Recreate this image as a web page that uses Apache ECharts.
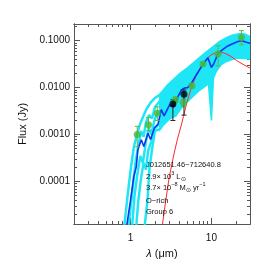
<!DOCTYPE html>
<html><head><meta charset="utf-8">
<script src="https://cdn.jsdelivr.net/npm/echarts@6/dist/echarts.min.js"></script>
<style>html,body{margin:0;padding:0;background:#fff}#c{width:273px;height:273px}</style>
</head><body><div id="c"></div>
<script>
// ---- axis ranges & ticks ----
const xRange = [0.2, 30];
const yRange = [1.25e-5, 0.226];
const xMajorTicks = [1, 10];
const xMinorTicks = [0.3,0.4,0.5,0.6,0.7,0.8,0.9,2,3,4,5,6,7,8,9,20];
const yMajorTicks = [1e-4, 1e-3, 1e-2, 1e-1];
const yMinorTicks = [2e-5,3e-5,4e-5,5e-5,6e-5,7e-5,8e-5,9e-5,
  2e-4,3e-4,4e-4,5e-4,6e-4,7e-4,8e-4,9e-4,
  2e-3,3e-3,4e-3,5e-3,6e-3,7e-3,8e-3,9e-3,
  0.02,0.03,0.04,0.05,0.06,0.07,0.08,0.09,0.2];

// ---- best-fit model (blue) ----
const blueL = [0.9,1.0,1.1,1.18,1.23,1.36,1.46,1.64,1.77,1.98,2.18,2.4,2.6,3.04,3.4,3.86,4.25,4.67,5.1,5.65,6.5,7.87,9.05,10.0,10.6,12.1,15.3,18,21.3,24,27,30];
const blueF = [1.2e-5,4e-5,1.3e-4,2.1e-4,4.7e-4,7.8e-4,5.6e-4,1.07e-3,7.9e-4,1.4e-3,1.65e-3,3.4e-3,2.5e-3,4.3e-3,3.9e-3,6.4e-3,8.9e-3,9.8e-3,1.0e-2,1.23e-2,1.86e-2,3.16e-2,4.3e-2,2.7e-2,3.1e-2,5.4e-2,7.4e-2,8.5e-2,9.6e-2,0.1,0.092,0.088];

// ---- photosphere (red) ----
const redL = [2.4,2.7,3.0,3.4,3.8,4.25,4.5,5.0,5.75,6.5,7.87,9,10,11.5,13,15,17.5,20.4,24,30];
const redF = [8e-6,3.5e-5,1.2e-4,3.5e-4,8e-4,1.6e-3,2.4e-3,5e-3,1.1e-2,1.8e-2,3.2e-2,4.3e-2,5.0e-2,5.6e-2,5.7e-2,5.3e-2,4.6e-2,3.8e-2,3.2e-2,2.6e-2];

// ---- model ensemble (cyan): envelope ----
const envUpL = [2.3,3.04,4.05,5.0,6.5,8.0,10.5,12.5,15.3,18,22.4,26,30];
const envUpF = [7.0e-3,1.25e-2,2.0e-2,2.6e-2,3.8e-2,5.2e-2,7.5e-2,9.5e-2,0.115,0.13,0.142,0.138,0.122];
const envLoL = [2.3,2.5,3.0,3.68,4.44,5.9,7.0,8.25,9.2,10.0,10.6,11.5,13,15.3,20,25,30];
const envLoF = [1.3e-3,1.6e-3,2.2e-3,2.6e-3,4e-3,6.5e-3,8.5e-3,1.05e-2,1.2e-2,2.0e-3,1.6e-2,2.2e-2,3.0e-2,3.6e-2,4.2e-2,4.2e-2,4.0e-2];

// ---- model ensemble (cyan): individual strands at short wavelengths ----
const s1L = [0.84,0.93,1.02,1.1,1.2,1.3,1.4,1.56,1.8,2.0,2.3,2.6,3.0];
const s1F = [1.2e-5,6e-5,2.2e-4,5.5e-4,1.0e-3,1.6e-3,2.2e-3,3.4e-3,5.0e-3,6.0e-3,7.0e-3,9.0e-3,1.2e-2];
const s2L = [0.95,1.05,1.15,1.25,1.35,1.45,1.55,1.7,1.85,2.0,2.3,2.6,3.0];
const s2F = [1.2e-5,6e-5,2.5e-4,6e-4,1.2e-3,9e-4,1.8e-3,2.6e-3,2.2e-3,3.8e-3,5.2e-3,6e-3,8e-3];
const s3L = [1.05,1.12,1.22,1.32,1.42,1.55,1.68,1.8,2.0,2.2,2.5,3.0];
const s3F = [1.2e-5,5e-5,1.5e-4,3.5e-4,2.5e-4,7e-4,1.4e-3,1.0e-3,2.2e-3,3.0e-3,3.5e-3,5e-3];
const s4L = [1.18,1.25,1.35,1.45,1.55,1.65,1.8,1.95,2.2,2.5,3.0];
const s4F = [1.2e-5,4e-5,1.2e-4,2.5e-4,1.8e-4,4.5e-4,7e-4,1.3e-3,1.6e-3,2.5e-3,3.5e-3];
const s5L = [1.5,1.62,1.72,1.85,2.0,2.3,2.5,3.0,3.68];
const s5F = [1.2e-5,4e-5,2e-4,5e-4,1.2e-3,1.3e-3,1.6e-3,2.2e-3,2.6e-3];

// ---- photometry ----
const greenL  = [1.21,1.67,2.14,3.58,4.5,5.75,7.87,12.1,23.5];
const greenF  = [1.0e-3,1.63e-3,2.85e-3,5.5e-3,4.8e-3,1.1e-2,3.2e-2,5.2e-2,0.116];
const greenLo = [5.5e-4,1.2e-3,2.0e-3,4.8e-3,4.0e-3,1.0e-2,3.0e-2,2.9e-2,8.1e-2];
const greenHi = [1.5e-3,2.3e-3,3.9e-3,6.3e-3,5.7e-3,1.2e-2,3.4e-2,7.8e-2,0.163];
const blackL  = [3.34,4.58];
const blackF  = [4.5e-3,7.2e-3];
const blackLo = [2.0e-3,2.6e-3];
const blackHi = [5.5e-3,8.9e-3];

// ---- annotation ----
const annoLines = [
  'J012651.46\u2212712640.8',
  '2.9\u00d7 10{sup|3} L{sub|\u2299}',
  '3.7\u00d7 10{sup|\u22128} M{sub|\u2299} yr{sup|\u22121}',
  'O\u2212rich',
  'Group 6'
];
const annoY = [164.5, 176.5, 187.5, 200.5, 211.5];

// ================= build =================
const lg = Math.log10;
const pairs = (L, F) => L.map((l, i) => [lg(l), lg(F[i])]);
const FONT = 'Liberation Sans, Arial, sans-serif';
const AX = '#555';
const CYAN = '#1ee6f6';
const xmin = lg(xRange[0]), xmax = lg(xRange[1]);
const ymin = lg(yRange[0]), ymax = lg(yRange[1]);

function mkX(pos, major, labels) {
  return {
    type: 'value', position: pos, min: xmin, max: xmax,
    axisLine: { show: true, onZero: false, lineStyle: { color: AX, width: 1 } },
    splitLine: { show: false },
    axisTick: { show: true, inside: true, length: major ? 6 : 3, lineStyle: { color: AX },
      customValues: (major ? xMajorTicks : xMinorTicks).map(lg) },
    axisLabel: labels ? { show: true, customValues: xMajorTicks.map(lg), margin: 9,
      formatter: v => String(Math.round(Math.pow(10, v))), color: '#111', fontSize: 10, fontFamily: FONT } : { show: false },
    name: labels ? '{it|\u03bb} (\u03bcm)' : '',
    nameLocation: 'middle', nameGap: 24,
    nameTextStyle: { color: '#111', fontSize: 11, fontFamily: FONT, rich: { it: { fontStyle: 'italic', fontSize: 11, fontFamily: FONT, color: '#111' } } }
  };
}
function mkY(pos, major, labels) {
  return {
    type: 'value', position: pos, min: ymin, max: ymax,
    axisLine: { show: true, onZero: false, lineStyle: { color: AX, width: 1 } },
    splitLine: { show: false },
    axisTick: { show: true, inside: true, length: major ? 6 : 3, lineStyle: { color: AX },
      customValues: (major ? yMajorTicks : yMinorTicks).map(lg) },
    axisLabel: labels ? { show: true, customValues: yMajorTicks.map(lg), margin: 4,
      formatter: v => Math.pow(10, v).toFixed(4), color: '#111', fontSize: 10, fontFamily: FONT } : { show: false },
    name: labels ? 'Flux (Jy)' : '',
    nameLocation: 'middle', nameGap: 43, nameRotate: 90,
    nameTextStyle: { color: '#111', fontSize: 11, fontFamily: FONT }
  };
}

function lineSeries(L, F, color, width, z) {
  return { type: 'line', data: pairs(L, F), showSymbol: false, symbol: 'none', z: z,
    lineStyle: { color: color, width: width }, silent: true, animation: false, clip: true };
}
function errSeries(L, Lo, Hi, color) {
  return {
    type: 'custom', z: 6, clip: true, animation: false,
    data: L.map((l, i) => [lg(l), lg(Lo[i]), lg(Hi[i])]),
    encode: { x: 0, y: [1, 2] },
    renderItem: function (params, api) {
      const x = api.value(0);
      const a = api.coord([x, api.value(1)]);
      const b = api.coord([x, api.value(2)]);
      const w = 2.5, st = { stroke: color, lineWidth: 1 };
      return { type: 'group', children: [
        { type: 'line', shape: { x1: a[0], y1: a[1], x2: b[0], y2: b[1] }, style: st },
        { type: 'line', shape: { x1: a[0] - w, y1: a[1], x2: a[0] + w, y2: a[1] }, style: st },
        { type: 'line', shape: { x1: b[0] - w, y1: b[1], x2: b[0] + w, y2: b[1] }, style: st }
      ] };
    }
  };
}

const envelope = {
  type: 'custom', z: 1, clip: true, animation: false,
  data: [[lg(envUpL[0]), lg(envUpF[0])]],
  encode: { x: 0, y: 1 },
  renderItem: function (params, api) {
    const pts = [];
    for (let i = 0; i < envUpL.length; i++) pts.push(api.coord([lg(envUpL[i]), lg(envUpF[i])]));
    for (let i = envLoL.length - 1; i >= 0; i--) pts.push(api.coord([lg(envLoL[i]), lg(envLoF[i])]));
    return { type: 'polygon', shape: { points: pts }, style: { fill: CYAN, stroke: CYAN, lineWidth: 1.5 } };
  }
};

const option = {
  animation: false,
  backgroundColor: '#fff',
  grid: { left: 74, right: 23, top: 24, bottom: 49, containLabel: false },
  xAxis: [mkX('bottom', true, true), mkX('bottom', false, false), mkX('top', true, false), mkX('top', false, false)],
  yAxis: [mkY('left', true, true), mkY('left', false, false), mkY('right', true, false), mkY('right', false, false)],
  series: [
    envelope,
    lineSeries(s1L, s1F, CYAN, 2.5, 2),
    lineSeries(s2L, s2F, CYAN, 2.5, 2),
    lineSeries(s3L, s3F, CYAN, 2.5, 2),
    lineSeries(s4L, s4F, CYAN, 2.5, 2),
    lineSeries(s5L, s5F, CYAN, 2.5, 2),
    lineSeries(redL, redF, '#ff2a2a', 1, 3),
    lineSeries(blueL, blueF, '#0a36f0', 1.6, 4),
    errSeries(greenL, greenLo, greenHi, '#5cb84a'),
    errSeries(blackL, blackLo, blackHi, '#222'),
    { type: 'scatter', z: 7, data: pairs(greenL, greenF), symbol: 'circle', symbolSize: 7,
      itemStyle: { color: '#46b638' }, animation: false },
    { type: 'scatter', z: 7, data: pairs(blackL, blackF), symbol: 'circle', symbolSize: 7,
      itemStyle: { color: '#000' }, animation: false }
  ],
  graphic: annoLines.map((t, i) => ({
    type: 'text', left: 146, top: annoY[i] - 6, z: 100,
    style: { text: t, fill: '#111', fontSize: 7.5, fontFamily: FONT, lineHeight: 12,
      rich: {
        sup: { fontSize: 5.5, verticalAlign: 'top', lineHeight: 12, fontFamily: FONT, fill: '#111' },
        sub: { fontSize: 5.5, verticalAlign: 'bottom', lineHeight: 12, fontFamily: FONT, fill: '#111' }
      } }
  }))
};

const chart = echarts.init(document.getElementById('c'), null, { renderer: 'canvas' });
chart.setOption(option);
</script></body></html>
